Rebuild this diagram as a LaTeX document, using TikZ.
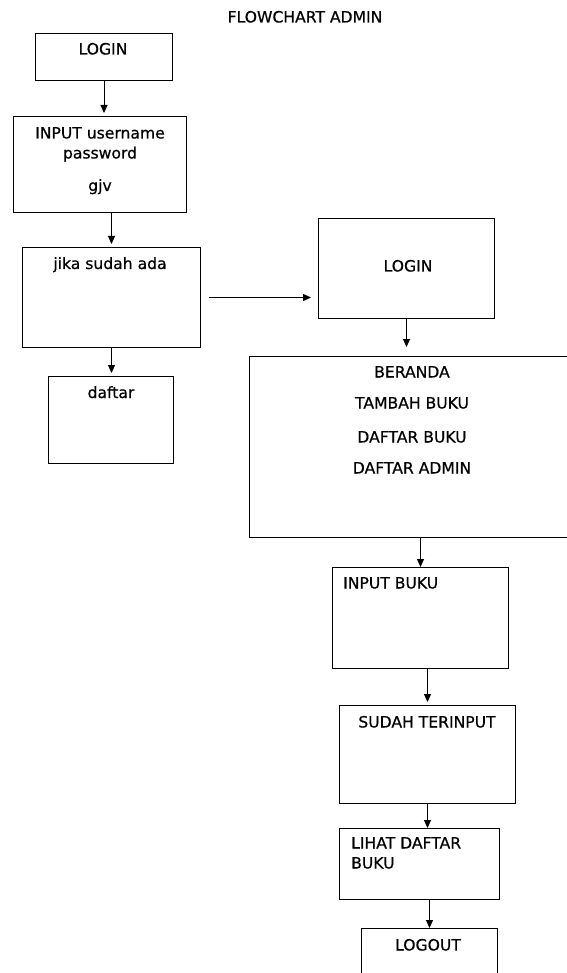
\documentclass[tikz,border=0pt]{standalone}
\usepackage{fontspec}
\setmainfont{DejaVu Sans}[BoldFont=DejaVu Sans, BoldFeatures={FakeBold=0.6}]
\usetikzlibrary{shapes, arrows.meta, positioning}

\begin{document}
\begin{tikzpicture}[x=1pt, y=-1pt, auto, thin, font=\fontsize{15.6}{20}\selectfont\bfseries]

\tikzstyle{box} = [rectangle, draw, line width=1pt, anchor=north west, inner sep=0pt]
\tikzstyle{teks} = [inner sep=0pt, anchor=base, align=center]
\tikzstyle{panah} = [-{Triangle[length=8pt,width=7pt]}, line width=1pt, shorten >=3pt]

\useasboundingbox (0,0) rectangle (566,973);

% Boxes
\node[box, minimum width=137pt, minimum height=47pt] (login) at (35,33) {};
\node[box, minimum width=173pt, minimum height=96pt] (input) at (13,116) {};
\node[box, minimum width=178pt, minimum height=100pt] (jika) at (22,247) {};
\node[box, minimum width=125pt, minimum height=87pt] (daftar) at (48,376) {};
\node[box, minimum width=176pt, minimum height=100pt] (login2) at (318,218) {};
\node[box, minimum width=340pt, minimum height=181pt] (beranda) at (249,356) {};
\node[box, minimum width=176pt, minimum height=101pt] (inputbuku) at (332,567) {};
\node[box, minimum width=176pt, minimum height=98pt] (sudah) at (339,705) {};
\node[box, minimum width=160pt, minimum height=71pt] (lihat) at (339,828) {};
\node[box, minimum width=136pt, minimum height=70pt] (logout) at (361,928) {};

% Texts
\node[teks] (judul) at (305,22.5) {FLOWCHART ADMIN};
\node[teks] (tLogin) at (103,54.5) {LOGIN};
\node[teks] (tInput) at (100,138.5) {INPUT username};
\node[teks] (tPass) at (100,158.5) {password};
\node[teks] (tGjv) at (100,191) {gjv};
\node[teks] (tJika) at (110,269) {jika sudah ada};
\node[teks] (tDaftar) at (111,398) {daftar};
\node[teks] (tLogin2) at (408,271.5) {LOGIN};
\node[teks] (tBeranda) at (412,377.5) {BERANDA};
\node[teks] (tTambah) at (412,408.5) {TAMBAH BUKU};
\node[teks] (tDaftarBuku) at (412,442.5) {DAFTAR BUKU};
\node[teks] (tDaftarAdmin) at (412,473.5) {DAFTAR ADMIN};
\node[teks, anchor=base west] (tInputBuku) at (343,588.5) {INPUT BUKU};
\node[teks] (tSudah) at (427,727.5) {SUDAH TERINPUT};
\node[teks, anchor=base west] (tLihat) at (351,848.5) {LIHAT DAFTAR};
\node[teks, anchor=base west] (tBuku) at (351,868.5) {BUKU};
\node[teks] (tLogout) at (428,950.5) {LOGOUT};

% Connections
\draw[panah] (login.south) -- (login.south |- input.north);
\draw[panah] (jika.north |- input.south) -- (jika.north);
\draw[panah] (jika.south) -- (jika.south |- daftar.north);
\draw[panah, line width=1.4pt, shorten >=7pt] ([xshift=8pt]jika.east) -- (jika.east -| login2.west);
\draw[panah, shorten >=9pt] (login2.south) -- (login2.south |- beranda.north);
\draw[panah, shorten >=0pt] (inputbuku.north |- beranda.south) -- (inputbuku.north);
\draw[panah] (sudah.north |- inputbuku.south) -- (sudah.north);
\draw[panah, shorten >=0pt] (sudah.south) -- (sudah.south |- lihat.north);
\draw[panah, shorten >=0pt] (logout.north |- lihat.south) -- (logout.north);

\end{tikzpicture}
\end{document}
